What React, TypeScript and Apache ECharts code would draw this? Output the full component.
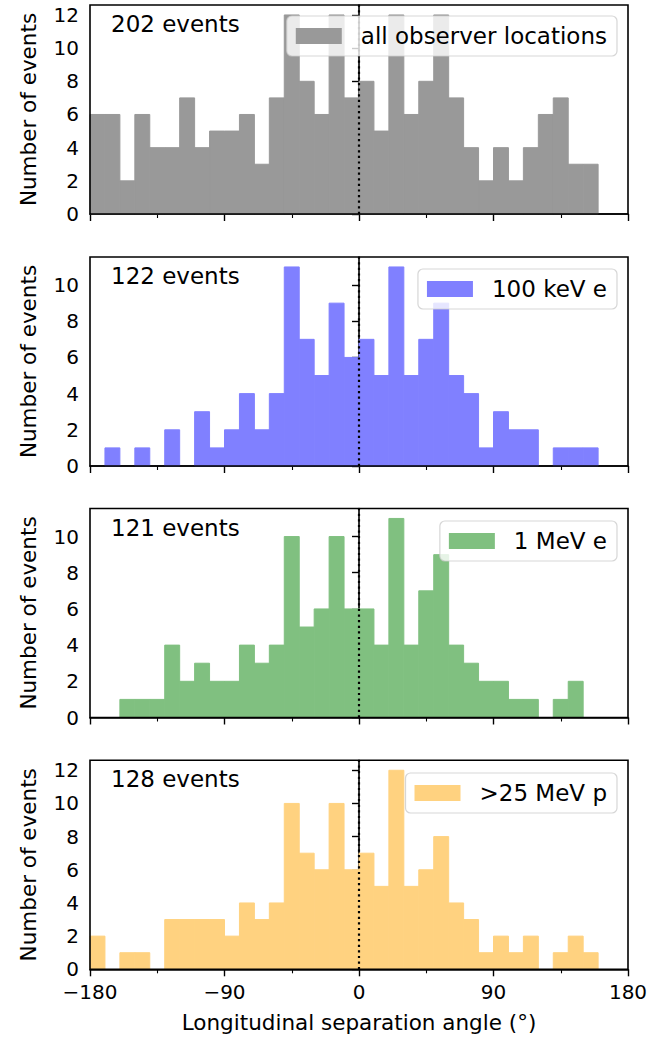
import React, { useEffect, useRef } from "react";
import * as echarts from "echarts";

// Histogram bin edges (degrees)
const binEdges = [
  -180, -170, -160, -150, -140, -130, -120, -110, -100, -90, -80, -70, -60, -50, -40, -30, -20, -10,
  0, 10, 20, 30, 40, 50, 60, 70, 80, 90, 100, 110, 120, 130, 140, 150, 160, 170, 180,
];

// Counts per bin
const allLocations = [
  6, 6, 2, 6, 4, 4, 7, 4, 5, 5, 6, 3, 7, 12, 8, 6, 12, 7,
  8, 5, 12, 6, 8, 12, 7, 4, 2, 4, 2, 4, 6, 7, 3, 3, 0, 0,
];
const electrons100keV = [
  0, 1, 0, 1, 0, 2, 0, 3, 1, 2, 4, 2, 4, 11, 7, 5, 9, 6,
  7, 5, 11, 5, 7, 9, 5, 4, 1, 3, 2, 2, 0, 1, 1, 1, 0, 0,
];
const electrons1MeV = [
  0, 0, 1, 1, 1, 4, 2, 3, 2, 2, 4, 3, 4, 10, 5, 6, 10, 6,
  6, 4, 11, 4, 7, 9, 4, 3, 2, 2, 1, 1, 0, 1, 2, 0, 0, 0,
];
const protons25MeV = [
  2, 0, 1, 1, 0, 3, 3, 3, 3, 2, 4, 3, 4, 10, 7, 6, 10, 6,
  7, 5, 12, 5, 6, 8, 4, 3, 1, 2, 1, 2, 0, 1, 2, 1, 0, 0,
];

const seriesNames = ["all observer locations", "100 keV e", "1 MeV e", ">25 MeV p"];
const eventLabels = ["202 events", "122 events", "121 events", "128 events"];
const seriesCounts = [allLocations, electrons100keV, electrons1MeV, protons25MeV];
const yTickLists = [
  [0, 2, 4, 6, 8, 10, 12],
  [0, 2, 4, 6, 8, 10],
  [0, 2, 4, 6, 8, 10],
  [0, 2, 4, 6, 8, 10, 12],
];
const xTicks = [-180, -90, 0, 90, 180];

const colors = ["#999999", "#8080ff", "#80c080", "#ffd280"];
const gridTops = [5, 257, 508.5, 760.3];
const gridHeight = 209;
const legendTops = [16, 269, 521, 773];

const FONT = "DejaVu Sans";

export default function App() {
  const ref = useRef<HTMLDivElement>(null);

  useEffect(() => {
    document.body.style.margin = "0";
    if (!ref.current) return;
    const chart = echarts.init(ref.current, null, { renderer: "svg" });

    const grids: any[] = [];
    const xAxes: any[] = [];
    const yAxes: any[] = [];
    const series: any[] = [];
    const legends: any[] = [];
    const graphics: any[] = [];

    seriesCounts.forEach((counts, i) => {
      const yMax = Math.max(...counts) * 1.05;
      grids.push({
        left: 90,
        width: 538,
        top: gridTops[i],
        height: gridHeight,
        show: true,
        z: 5,
        backgroundColor: "transparent",
        borderColor: "#000",
        borderWidth: 1.6,
      });
      xAxes.push({
        type: "value",
        gridIndex: i,
        min: -180,
        max: 180,
        interval: 90,
        splitLine: { show: false },
        axisLine: { show: true, onZero: false, lineStyle: { color: "#000", width: 1.6 } },
        axisTick: { show: true, inside: false, length: 7, lineStyle: { color: "#000", width: 1.4 } },
        minorTick: { show: true, splitNumber: 2, length: 4, lineStyle: { color: "#000", width: 1.1 } },
        axisLabel: {
          show: i === 3,
          margin: 13,
          color: "#000",
          fontFamily: FONT,
          fontSize: 20,
          formatter: (v: number) => (v < 0 ? "\u2212" + Math.abs(v) : String(v)),
          customValues: xTicks,
        },
        name: i === 3 ? "Longitudinal separation angle (°)" : "",
        nameLocation: "middle",
        nameGap: 42,
        nameTextStyle: { color: "#000", fontFamily: FONT, fontSize: 21.5 },
      });
      yAxes.push({
        type: "value",
        gridIndex: i,
        min: 0,
        max: yMax,
        splitLine: { show: false },
        axisLine: { show: true, lineStyle: { color: "#000", width: 1.6 } },
        axisTick: {
          show: true,
          inside: false,
          length: 7,
          lineStyle: { color: "#000", width: 1.4 },
          customValues: yTickLists[i],
        },
        axisLabel: {
          show: true,
          margin: 11,
          color: "#000",
          fontFamily: FONT,
          fontSize: 20,
          customValues: yTickLists[i],
        },
        name: "Number of events",
        nameLocation: "middle",
        nameRotate: 90,
        nameGap: 51,
        nameTextStyle: { color: "#000", fontFamily: FONT, fontSize: 21.5 },
      });
      const color = colors[i];
      series.push({
        type: "custom",
        name: seriesNames[i],
        xAxisIndex: i,
        yAxisIndex: i,
        itemStyle: { color },
        encode: { x: [0, 1], y: 2 },
        data: counts.map((c, k) => [binEdges[k], binEdges[k + 1], c]),
        renderItem: (params: any, api: any) => {
          const x0 = api.value(0);
          const x1 = api.value(1);
          const c = api.value(2);
          if (!c) return null;
          const p0 = api.coord([x0, c]);
          const p1 = api.coord([x1, 0]);
          return {
            type: "rect",
            shape: { x: p0[0], y: p0[1], width: p1[0] - p0[0], height: p1[1] - p0[1] },
            style: { fill: color, stroke: color, lineWidth: 1 },
          };
        },
      });
      series.push({
        type: "line",
        xAxisIndex: i,
        yAxisIndex: i,
        data: [
          [0, 0],
          [0, yMax],
        ],
        symbol: "none",
        silent: true,
        z: 3,
        lineStyle: { color: "#000", width: 2.2, type: [2.2, 3.4] },
      });
      legends.push({
        data: [{ name: seriesNames[i], icon: "rect" }],
        right: 53,
        top: legendTops[i],
        orient: "vertical",
        itemWidth: 46,
        itemHeight: 16,
        padding: [8, 10, 8, 9],
        backgroundColor: "rgba(255,255,255,0.8)",
        borderColor: "rgba(204,204,204,0.8)",
        borderWidth: 1.2,
        borderRadius: 5,
        selectedMode: false,
        z: 10,
        textStyle: {
          color: "#000",
          fontFamily: FONT,
          fontSize: 23,
          lineHeight: 24,
          padding: [0, 0, 0, 14],
        },
      });
      graphics.push({
        type: "text",
        x: 111,
        y: gridTops[i] + 19,
        z: 20,
        style: {
          text: eventLabels[i],
          fill: "#000",
          font: `23px "${FONT}"`,
          textVerticalAlign: "middle",
          verticalAlign: "middle",
        },
      });
    });

    chart.setOption({
      animation: false,
      backgroundColor: "#fff",
      grid: grids,
      xAxis: xAxes,
      yAxis: yAxes,
      series,
      legend: legends,
      graphic: graphics,
    });

    return () => chart.dispose();
  }, []);

  return <div ref={ref} style={{ width: 670, height: 1039 }} />;
}
